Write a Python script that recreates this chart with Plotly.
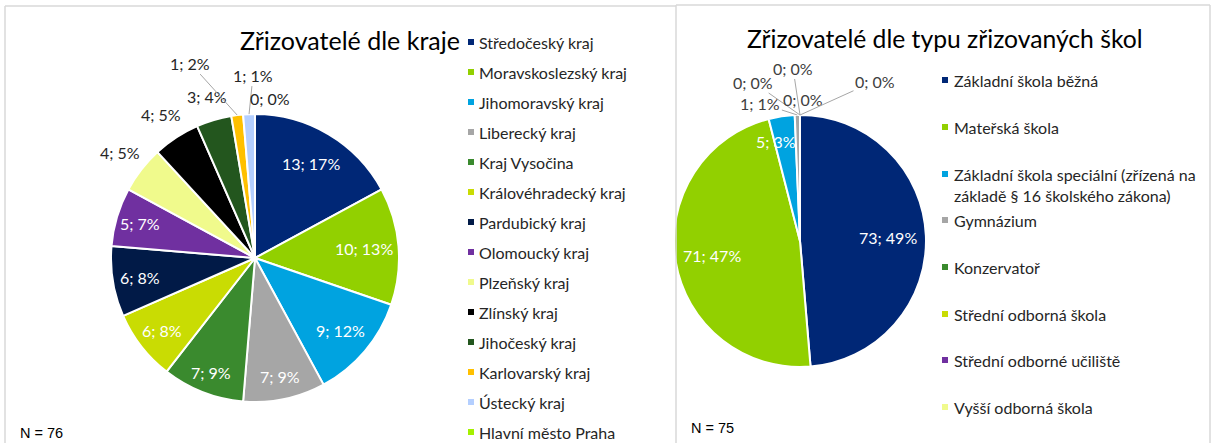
import math
import plotly.graph_objects as go

W, H = 1211, 443

# ---------------- data ----------------
kraje = ["Středočeský kraj", "Moravskoslezský kraj", "Jihomoravský kraj", "Liberecký kraj",
         "Kraj Vysočina", "Královéhradecký kraj", "Pardubický kraj", "Olomoucký kraj",
         "Plzeňský kraj", "Zlínský kraj", "Jihočeský kraj", "Karlovarský kraj",
         "Ústecký kraj", "Hlavní město Praha"]
kraje_values = [13, 10, 9, 7, 7, 6, 6, 5, 4, 4, 3, 1, 1, 0]
kraje_pct = ["17%", "13%", "12%", "9%", "9%", "8%", "8%", "7%", "5%", "5%", "4%", "2%", "1%", "0%"]

typy = ["Základní škola běžná", "Mateřská škola",
        "Základní škola speciální (zřízená na<br>základě § 16 školského zákona)",
        "Gymnázium", "Konzervatoř", "Střední odborná škola",
        "Střední odborné učiliště", "Vyšší odborná škola"]
typy_values = [73, 71, 5, 1, 0, 0, 0, 0]
typy_pct = ["49%", "47%", "3%", "1%", "0%", "0%", "0%", "0%"]

n_kraje = "N = 76"
n_typy = "N = 75"

# ---------------- style ----------------
kraje_colors = ["#002776", "#92D000", "#00A3E0", "#A6A6A6", "#3A8A2E", "#C9DC03", "#011A47",
                "#7030A0", "#F0FA8C", "#000000", "#23561E", "#FFC000", "#B4CFFF", "#A5F000"]
typy_colors = ["#002776", "#92D000", "#00A3E0", "#A6A6A6", "#3A8A2E", "#C9DC03", "#7030A0", "#F0FA8C"]

FONT = "Lato"
LBL = 16
LEG = 16


def px(x):
    return x / W


def py(y):
    return 1 - y / H


# pie geometry (pixels)
L_C, L_R = (255, 258), 144
R_C, R_R = (800, 241), 126

fig = go.Figure()
fig.add_trace(go.Pie(
    labels=kraje, values=kraje_values, sort=False, direction="clockwise", rotation=0,
    marker=dict(colors=kraje_colors, line=dict(color="white", width=2)),
    textinfo="none", hoverinfo="label+value", showlegend=False,
    domain=dict(x=[px(L_C[0] - L_R), px(L_C[0] + L_R)], y=[py(L_C[1] + L_R), py(L_C[1] - L_R)]),
))
fig.add_trace(go.Pie(
    labels=typy, values=typy_values, sort=False, direction="clockwise", rotation=0,
    marker=dict(colors=typy_colors, line=dict(color="white", width=2)),
    textinfo="none", hoverinfo="label+value", showlegend=False,
    domain=dict(x=[px(R_C[0] - R_R), px(R_C[0] + R_R)], y=[py(R_C[1] + R_R), py(R_C[1] - R_R)]),
))

annotations = []
shapes = []


def mid_point(values, i, center, radius, frac):
    total = sum(values)
    cum = sum(values[:i]) + values[i] / 2
    ang = math.radians(360 * cum / total)
    x = center[0] + math.sin(ang) * radius * frac
    y = center[1] - math.cos(ang) * radius * frac
    return x, y


def label(x, y, txt, color, **kw):
    d = dict(x=px(x), y=py(y), xref="paper", yref="paper", text=txt, showarrow=False,
             xanchor="center", yanchor="middle", font=dict(family=FONT, size=LBL, color=color))
    d.update(kw)
    return d


# ---- left pie labels ----
left_place = [("in", 0.76), ("in", 0.76), ("in", 0.78), ("in", 0.84), ("in", 0.85), ("in", 0.82),
              ("in", 0.81), ("in", 0.83), ("out", 1.19), ("out", 1.19), ("out", 1.17),
              ("arrow", -47, -52), ("arrow", 4, -39), ("shift", 15, -16)]
for i, (v, p) in enumerate(zip(kraje_values, kraje_pct)):
    txt = f"{v}; {p}"
    pl = left_place[i]
    if pl[0] in ("in", "out"):
        x, y = mid_point(kraje_values, i, L_C, L_R, pl[1])
        annotations.append(label(x, y, txt, "white" if pl[0] == "in" else "#262626"))
    else:
        x, y = mid_point(kraje_values, i, L_C, L_R, 1.0)
        if pl[0] == "arrow":
            annotations.append(label(x, y, txt, "#262626", showarrow=True, ax=pl[1], ay=pl[2],
                                     arrowhead=0, arrowwidth=1, arrowcolor="#A6A6A6", standoff=0))
        else:
            annotations.append(label(x + pl[1], y + pl[2], txt, "#262626"))

# ---- right pie labels ----
right_place = [("in", 0.70), ("in", 0.71), ("in", 0.80), ("arrow", -37, -12), ("arrow", -47, -33),
               ("arrow", -7, -47), ("shift", 3, -16), ("arrow", 75, -34)]
for i, (v, p) in enumerate(zip(typy_values, typy_pct)):
    txt = f"{v}; {p}"
    pl = right_place[i]
    if pl[0] == "in":
        x, y = mid_point(typy_values, i, R_C, R_R, pl[1])
        if i == 2:
            x -= 9
        annotations.append(label(x, y, txt, "white"))
    else:
        x, y = mid_point(typy_values, i, R_C, R_R, 1.0)
        if pl[0] == "arrow":
            annotations.append(label(x, y, txt, "#404040", showarrow=True, ax=pl[1], ay=pl[2],
                                     arrowhead=0, arrowwidth=1, arrowcolor="#A6A6A6", standoff=0))
        else:
            annotations.append(label(x + pl[1], y + pl[2], txt, "#404040"))

# ---- manual legends ----
for i, (name, col) in enumerate(zip(kraje, kraje_colors)):
    yc = 42 + i * 30
    shapes.append(dict(type="rect", xref="paper", yref="paper", x0=px(468), x1=px(474),
                       y0=py(yc + 3), y1=py(yc - 3), fillcolor=col, line=dict(width=0)))
    annotations.append(dict(x=px(477), y=py(yc), xref="paper", yref="paper", text=name, showarrow=False,
                            xanchor="left", yanchor="middle", font=dict(family=FONT, size=LEG, color="#262626")))

right_leg_y = [80, 127, 174, 220, 267, 314, 360, 407]
for i, (name, col) in enumerate(zip(typy, typy_colors)):
    yc = right_leg_y[i]
    shapes.append(dict(type="rect", xref="paper", yref="paper", x0=px(942), x1=px(948),
                       y0=py(yc + 3), y1=py(yc - 3), fillcolor=col, line=dict(width=0)))
    annotations.append(dict(x=px(952), y=py(yc - 11), xref="paper", yref="paper", text=name, showarrow=False,
                            xanchor="left", yanchor="top", align="left",
                            font=dict(family=FONT, size=LEG, color="#262626")))

# ---- titles & N ----
annotations.append(dict(x=px(462), y=py(40), xref="paper", yref="paper", text="Zřizovatelé dle kraje",
                        showarrow=False, xanchor="right", yanchor="middle",
                        font=dict(family=FONT, size=25, color="#000000")))
annotations.append(dict(x=px(945), y=py(38), xref="paper", yref="paper",
                        text="Zřizovatelé dle typu zřizovaných škol",
                        showarrow=False, xanchor="center", yanchor="middle",
                        font=dict(family=FONT, size=24.7, color="#000000")))
annotations.append(dict(x=px(18), y=py(433), xref="paper", yref="paper", text=n_kraje, showarrow=False,
                        xanchor="left", yanchor="middle", font=dict(family="Liberation Sans", size=14.5, color="#000000")))
annotations.append(dict(x=px(689), y=py(428), xref="paper", yref="paper", text=n_typy, showarrow=False,
                        xanchor="left", yanchor="middle", font=dict(family="Liberation Sans", size=14.5, color="#000000")))

# ---- panel borders ----
bc = "#D9D9D9"
for (x0, y0, x1, y1) in [(5, 6, 676, 6), (5, 6, 5, 460), (676, 5, 676, 460), (676, 5, 1210, 5),
                         (1210, 5, 1210, 460)]:
    shapes.append(dict(type="line", xref="paper", yref="paper", x0=px(x0), y0=py(y0), x1=px(x1), y1=py(y1),
                       line=dict(color=bc, width=1.5)))

fig.update_layout(
    width=W, height=H, margin=dict(l=0, r=0, t=0, b=0),
    paper_bgcolor="white", plot_bgcolor="white",
    annotations=annotations, shapes=shapes, showlegend=False,
)
fig.write_html("out.html", config={"displayModeBar": False},
               post_script="document.body.style.margin='0';document.body.style.overflow='hidden';")
